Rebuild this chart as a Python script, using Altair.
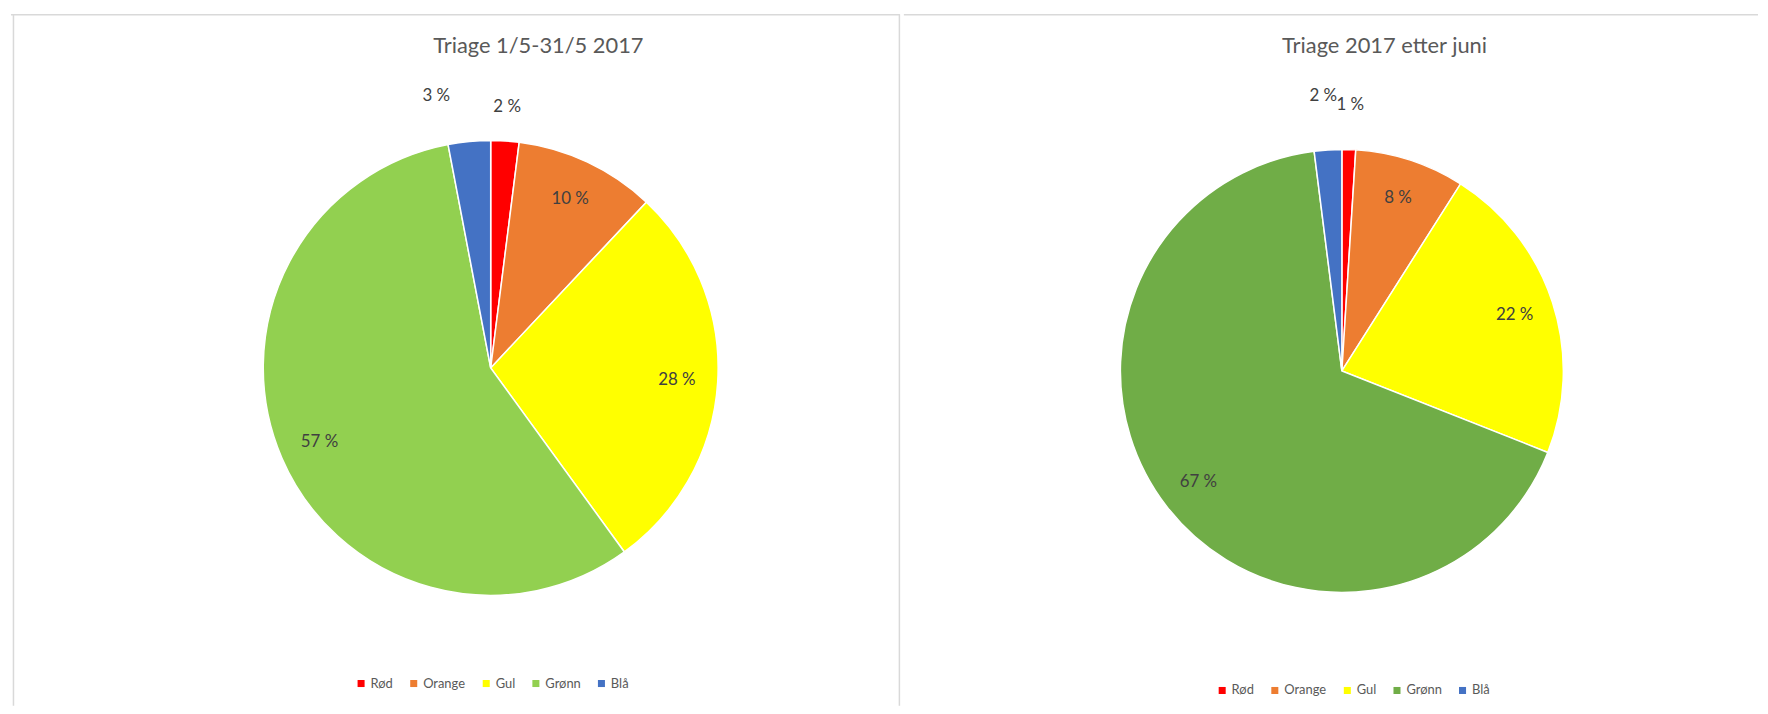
import altair as alt
import pandas as pd

CATEGORIES = ["Rød", "Orange", "Gul", "Grønn", "Blå"]
MAY_PCT = [2, 10, 28, 57, 3]
AFTER_PCT = [1, 8, 22, 67, 2]
COLORS_MAY = ["#FF0000", "#ED7D31", "#FFFF00", "#92D050", "#4472C4"]
COLORS_AFTER = ["#FF0000", "#ED7D31", "#FFFF00", "#70AD47", "#4472C4"]
TITLES = ["Triage 1/5-31/5 2017", "Triage 2017 etter juni"]

FONT = "Lato"
TXT = "#595959"
LBL = "#404040"
H = 696


def panel(values, colors, title, w, cx, cy, R, tx, lx, ly, borders, callout, out_r):
    df = pd.DataFrame({"cat": CATEGORIES, "v": values, "idx": list(range(len(values)))})
    base = alt.Chart(df).transform_calculate(
        lab_in="datum.v >= 5 ? datum.v + ' %' : ''",
        lab_out="datum.v < 5 && datum.cat != '%s' ? datum.v + ' %%' : ''" % callout[0],
        lab_call="datum.cat == '%s' ? datum.v + ' %%' : ''" % callout[0],
    ).encode(
        theta=alt.Theta("v:Q", stack=True, scale=alt.Scale(domain=[0, 100])),
        order=alt.Order("idx:Q"),
    )
    pie = base.mark_arc(outerRadius=R, stroke="white", strokeWidth=1.5).encode(
        color=alt.Color(
            "cat:N",
            scale=alt.Scale(domain=CATEGORIES, range=colors),
            sort=CATEGORIES,
            legend=alt.Legend(
                orient="none", legendX=lx, legendY=ly, direction="horizontal",
                title=None, symbolType="square", symbolSize=50, symbolStrokeWidth=0,
                labelFont=FONT, labelFontSize=13, labelColor=TXT,
                columnPadding=14, labelOffset=3,
            ),
        ),
        x=alt.value(cx), y=alt.value(cy),
    )
    inner = base.mark_text(radius=R * 0.82, font=FONT, fontSize=17, color=LBL).encode(
        text="lab_in:N", x=alt.value(cx), y=alt.value(cy))
    outer = base.mark_text(radius=R * out_r, font=FONT, fontSize=17, color=LBL).encode(
        text="lab_out:N", x=alt.value(cx), y=alt.value(cy))
    call = base.mark_text(radius=R * out_r, font=FONT, fontSize=17, color=LBL,
                          dx=callout[1], dy=callout[2]).encode(
        text="lab_call:N", x=alt.value(cx), y=alt.value(cy))
    ttl = alt.Chart(alt.Data(values=[{"t": title}])).mark_text(
        font=FONT, fontSize=22, color=TXT).encode(
        text="t:N", x=alt.value(tx), y=alt.value(32))
    layers = [pie, inner, outer, call, ttl]
    one = alt.Data(values=[{"k": 0}])
    for b in borders:
        if b == "top":
            layers.append(alt.Chart(one).mark_rule(color="#d9d9d9", strokeWidth=1.5).encode(
                x=alt.value(-2), x2=alt.value(w), y=alt.value(0.5)))
        elif b == "left":
            layers.append(alt.Chart(one).mark_rule(color="#d9d9d9", strokeWidth=1.5).encode(
                x=alt.value(0.5), y=alt.value(0), y2=alt.value(H)))
        elif b == "right":
            layers.append(alt.Chart(one).mark_rule(color="#d9d9d9", strokeWidth=1.5).encode(
                x=alt.value(w - 0.5), y=alt.value(0), y2=alt.value(H)))
    return alt.layer(*layers).properties(width=w, height=H)


left = panel(MAY_PCT, COLORS_MAY, TITLES[0], 893, 481, 356, 229, 529, 344, 667,
             ["top", "left", "right"], ("Blå", -30, -12), 1.15)
right = panel(AFTER_PCT, COLORS_AFTER, TITLES[1], 858, 439, 359, 223, 482, 312, 674,
              ["top"], ("Blå", -2, -10), 1.2)

chart = alt.hconcat(left, right, spacing=0).resolve_scale(
    color="independent", theta="independent"
).properties(
    padding={"left": 1, "top": 2, "right": 0, "bottom": 0},
    background="white",
).configure_view(stroke="transparent")

chart.save("out.html", embed_options={"renderer": "svg", "actions": False})
